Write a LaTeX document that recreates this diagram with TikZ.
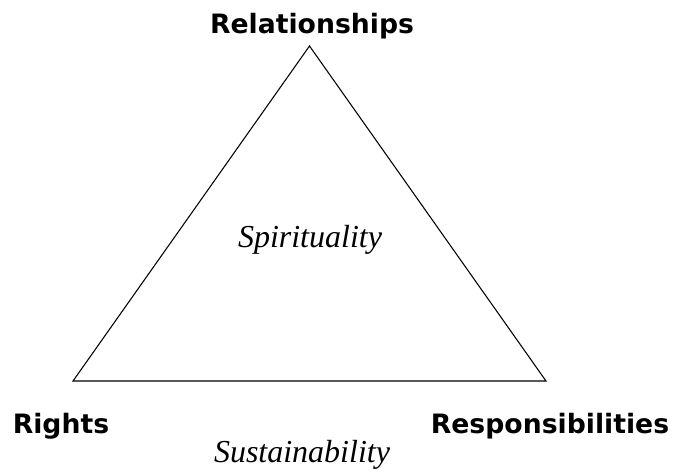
\documentclass[tikz,border=0pt]{standalone}
\usepackage{fontspec}
\setmainfont{Liberation Serif}
\newfontfamily\labelfont{DejaVu Sans}
\usetikzlibrary{positioning,calc}
\def\TriWidth{354.75pt}
\def\TriHeight{251.25pt}

\tikzset{
	corner/.style={font=\labelfont\bfseries\fontsize{20}{24}\selectfont, inner sep=0pt},
	theme/.style={font=\itshape\fontsize{24}{28}\selectfont, inner sep=0pt},
	side/.style={line width=0.8pt, line join=miter}
}

\begin{document}
\begin{tikzpicture}
	\useasboundingbox (0,0) rectangle (510pt,-356.25pt);
	\coordinate (bl) at (54.75pt,-285.75pt);
	\coordinate[right=\TriWidth of bl] (br);
	\coordinate (top) at ($(bl)!0.5!(br)+(0,\TriHeight)$);
	% triangle
	\draw[side] (top) -- (br) -- (bl) -- cycle;
	\node[corner] (rel) at (234pt,-19.5pt) {Relationships};
	\node[corner] (rig) at (45.75pt,-319.5pt) {Rights};
	\node[corner] (res) at (412.5pt,-319.5pt) {Responsibilities};
	\node[theme] (spi) at (232.5pt,-180pt) {Spirituality};
	\node[theme] (sus) at (226.5pt,-341pt) {Sustainability};
\end{tikzpicture}
\end{document}
